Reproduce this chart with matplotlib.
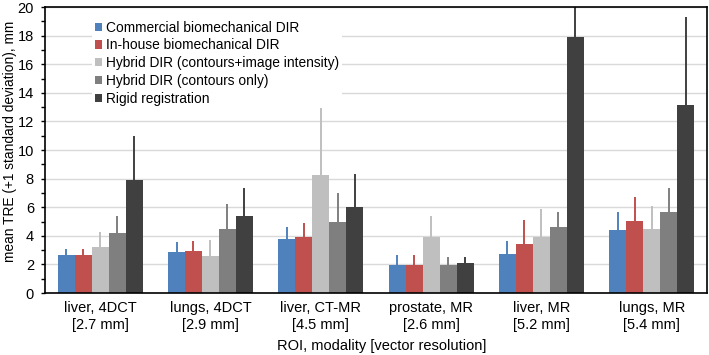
import numpy as np
import matplotlib
matplotlib.use("Agg")
import matplotlib.pyplot as plt
from matplotlib.ticker import MultipleLocator

plt.rcParams['font.family'] = ['Liberation Sans', 'DejaVu Sans']

groups = ['liver, 4DCT\n[2.7 mm]', 'lungs, 4DCT\n[2.9 mm]', 'liver, CT-MR\n[4.5 mm]',
          'prostate, MR\n[2.6 mm]', 'liver, MR\n[5.2 mm]', 'lungs, MR\n[5.4 mm]']
methods = ['Commercial biomechanical DIR', 'In-house biomechanical DIR',
           'Hybrid DIR (contours+image intensity)', 'Hybrid DIR (contours only)',
           'Rigid registration']
colors = ['#4F81BD', '#C0504D', '#BFBFBF', '#7F7F7F', '#404040']

# mean TRE per method, one value per group
commercial = [2.65, 2.85, 3.75, 1.97, 2.75, 4.38]
inhouse    = [2.67, 2.95, 3.95, 1.98, 3.40, 5.02]
hyb_int    = [3.25, 2.60, 8.25, 3.90, 3.90, 4.48]
hyb_cont   = [4.18, 4.45, 4.95, 1.94, 4.60, 5.67]
rigid      = [7.90, 5.36, 6.02, 2.10, 17.88, 13.15]
# standard deviations
commercial_sd = [0.43, 0.70, 0.85, 0.70, 0.90, 1.28]
inhouse_sd    = [0.38, 0.70, 0.95, 0.68, 1.68, 1.72]
hyb_int_sd    = [1.05, 1.12, 4.70, 1.50, 2.00, 1.60]
hyb_cont_sd   = [1.23, 1.75, 2.02, 0.57, 1.04, 1.65]
rigid_sd      = [3.08, 1.98, 2.30, 0.42, 2.70, 6.17]

means = [commercial, inhouse, hyb_int, hyb_cont, rigid]
sds = [commercial_sd, inhouse_sd, hyb_int_sd, hyb_cont_sd, rigid_sd]

fig = plt.figure(figsize=(7.09, 3.55), dpi=100)
ax = fig.add_axes([0.0635, 0.1746, 0.9335, 0.8054])

x = np.arange(len(groups))
w = 0.154
for i, (m, s, c, lab) in enumerate(zip(means, sds, colors, methods)):
    pos = x + (i - 2) * w
    ax.bar(pos, m, width=w, color=c, label=lab, zorder=2)
    ax.vlines(pos, m, np.array(m) + np.array(s), color=c, linewidth=1.4, zorder=1.5)

ax.set_xlim(-0.5, len(groups) - 0.5)
ax.set_ylim(0, 20)
ax.yaxis.set_major_locator(MultipleLocator(2))
ax.yaxis.set_minor_locator(MultipleLocator(1))
ax.grid(axis='y', which='major', color='#D9D9D9', linewidth=1.0, zorder=0)
ax.set_axisbelow(True)
ax.set_xticks(x)
ax.set_xticklabels(groups, fontsize=10.5)
ax.tick_params(axis='x', length=0, pad=6)
ax.tick_params(axis='y', which='major', length=3, width=1, labelsize=10.5,
               direction='out', pad=5)
ax.tick_params(axis='y', which='minor', length=3, width=1, direction='out')
for sp in ax.spines.values():
    sp.set_color('black')
    sp.set_linewidth(1.2)

ax.set_ylabel('mean TRE (+1 standard deviation), mm', fontsize=9.9)
ax.yaxis.set_label_coords(-0.043, 0.53)
ax.set_xlabel('ROI, modality [vector resolution]', fontsize=10.5)
ax.xaxis.set_label_coords(0.509, -0.16)

leg = ax.legend(loc='upper left', bbox_to_anchor=(0.071, 0.962), fontsize=9.9,
                frameon=True, facecolor='white', edgecolor='none', framealpha=1,
                handlelength=0.55, handleheight=0.55, handletextpad=0.25,
                labelspacing=0.27, borderpad=0.2, borderaxespad=0.0)
leg.get_frame().set_linewidth(0)

fig.savefig('out.png', dpi=100, facecolor='white')
